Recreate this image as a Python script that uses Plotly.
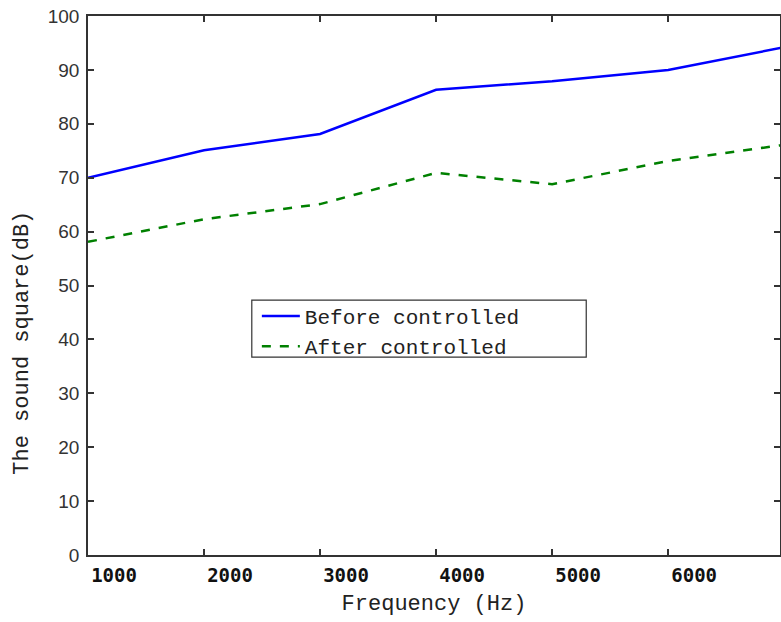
import plotly.graph_objects as go

freq = [1000, 2000, 3000, 4000, 5000, 6000, 7000]
before = [70, 75.1, 78.1, 86.3, 87.9, 90, 94.2]
after = [58.1, 62.3, 65.1, 70.9, 68.8, 73.1, 76.1]
xticks = [1000, 2000, 3000, 4000, 5000, 6000]
yticks = [0, 10, 20, 30, 40, 50, 60, 70, 80, 90, 100]

fig = go.Figure()
fig.add_trace(go.Scatter(x=freq, y=before, mode="lines", name="Before controlled",
                         line=dict(color="#0000ff", width=2.5)))
fig.add_trace(go.Scatter(x=freq, y=after, mode="lines", name="After controlled",
                         line=dict(color="#008000", width=2.5, dash="dash")))

axcol = "#333333"
fig.add_shape(type="rect", xref="paper", yref="paper",
              x0=0.2367, x1=0.720, y0=0.367, y1=0.473,
              line=dict(color="#333333", width=1.2), fillcolor="white", layer="above")
fig.add_annotation(text="The sound square(dB)", xref="paper", yref="paper",
                   x=-0.0938, y=0.394, xanchor="center", yanchor="middle",
                   textangle=-90, showarrow=False,
                   font=dict(family="Liberation Mono", size=22, color="#222222"))
fig.update_layout(
    width=781, height=622,
    margin=dict(l=88, r=1, t=16, b=67),
    paper_bgcolor="white", plot_bgcolor="white",
    showlegend=True,
    legend=dict(x=0.244, y=0.481, xanchor="left", yanchor="top",
                borderwidth=0, bgcolor="rgba(0,0,0,0)", itemwidth=38,
                font=dict(family="Liberation Mono", size=21, color="#222222"),
                tracegroupgap=0),
    xaxis=dict(range=[1000, 6964], tickvals=xticks, ticktext=[str(v) for v in xticks],
               automargin=False,
               showgrid=False, zeroline=False, showline=True, linecolor=axcol, linewidth=1.5,
               mirror="ticks", ticks="inside", ticklen=6, tickcolor=axcol, tickwidth=1.5,
               ticklabelshift=26, ticklabelstandoff=2,
               tickfont=dict(family="DejaVu Sans Mono", size=19, color="#111111", weight="bold"),
               title=dict(text="Frequency (Hz)", standoff=10,
                          font=dict(family="Liberation Mono", size=22, color="#222222"))),
    yaxis=dict(range=[0, 100], tickvals=yticks, automargin=False,
               showgrid=False, zeroline=False, showline=True, linecolor=axcol, linewidth=1.5,
               mirror="ticks", ticks="inside", ticklen=6, tickcolor=axcol, tickwidth=1.5,
               ticklabelstandoff=3,
               tickfont=dict(family="Liberation Sans", size=19, color="#333333")),
)

fig.write_html("out.html", config={"displayModeBar": False},
               post_script="document.body.style.margin='0';document.body.style.overflow='hidden';")
